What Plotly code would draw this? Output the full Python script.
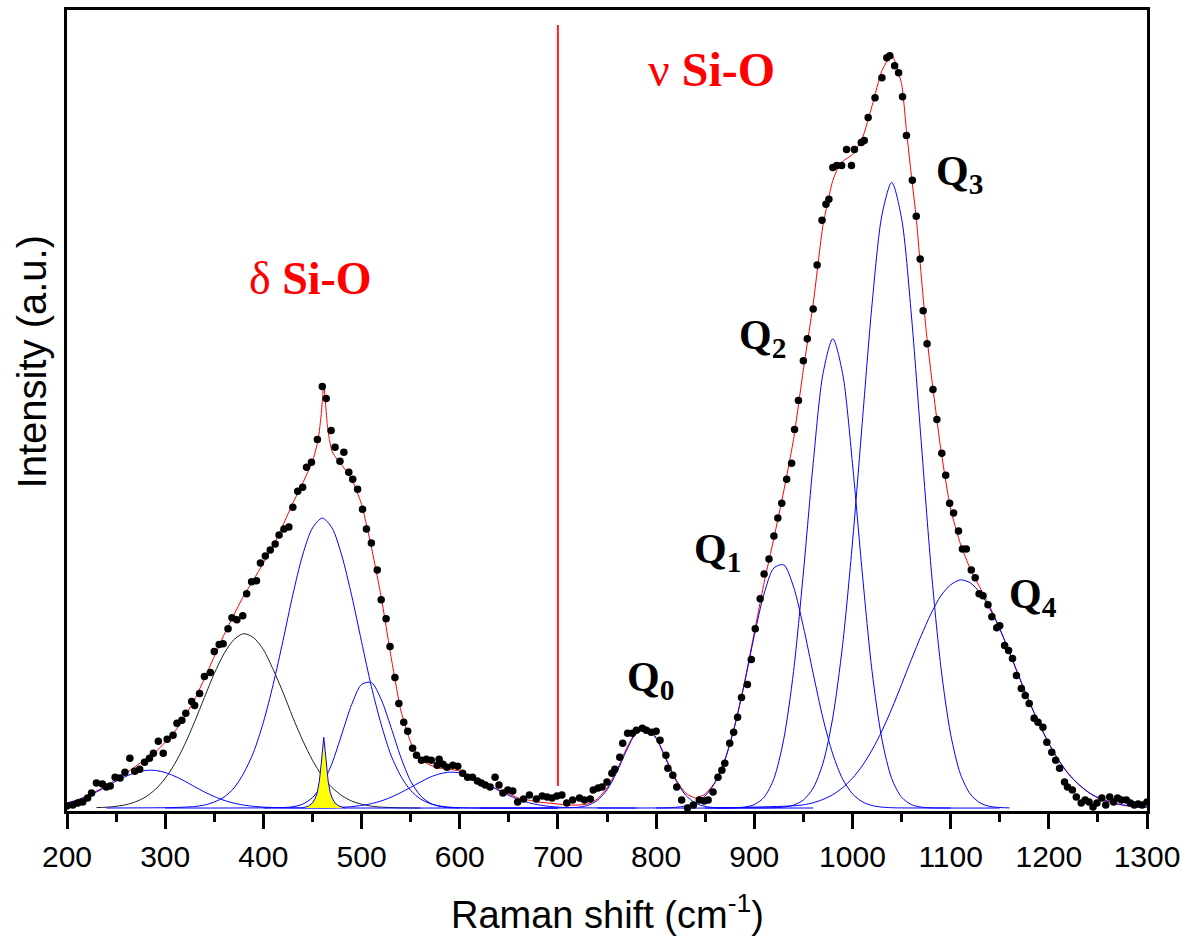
import plotly.graph_objects as go

# ---------------- measured spectrum (black dots) ----------------
data_x = [200, 206, 211, 216, 221, 225, 230, 236, 240, 244, 249, 254, 259, 264, 269, 274, 279, 284, 288, 293,
          298, 302, 308, 312, 317, 321, 327, 330, 335, 340, 346, 350, 355, 359, 364, 368, 373, 379, 383, 388,
          393, 397, 402, 407, 412, 416, 421, 426, 430, 435, 440, 444, 449, 455, 460, 464, 469, 473, 478, 482,
          487, 491, 496, 501, 505, 510, 516, 520, 525, 529, 534, 538, 543, 547, 552, 556, 561, 566, 571, 577,
          579, 583, 587, 593, 598, 603, 608, 613, 618, 622, 626, 631, 636, 640, 644, 649, 654, 659, 665, 671,
          678, 684, 689, 694, 699, 704, 709, 715, 722, 727, 733, 736, 741, 745, 750, 755, 758, 763, 766, 771,
          776, 780, 786, 790, 795, 800, 804, 810, 812, 817, 821, 826, 832, 838, 844, 849, 853, 858, 863, 867,
          870, 875, 879, 883, 887, 893, 897, 901, 906, 910, 915, 920, 924, 928, 933, 938, 941, 945, 950, 954,
          960, 964, 969, 973, 976, 980, 984, 989, 994, 999, 1002, 1009, 1012, 1016, 1023, 1030, 1035, 1038, 1043, 1047,
          1051, 1055, 1061, 1065, 1069, 1072, 1076, 1082, 1086, 1091, 1095, 1099, 1103, 1108, 1112, 1116, 1121, 1125, 1129, 1133,
          1138, 1142, 1147, 1150, 1155, 1159, 1163, 1167, 1172, 1176, 1180, 1185, 1189, 1194, 1198, 1203, 1207, 1211, 1216, 1219,
          1224, 1228, 1233, 1237, 1241, 1245, 1249, 1254, 1258, 1262, 1266, 1270, 1274, 1279, 1283, 1287, 1291, 1295, 1300]
data_y = [2, 3, 5, 6, 10, 15, 25, 24, 21, 22, 31, 30, 36, 50, 37, 39, 46, 50, 55, 67,
          55, 69, 73, 85, 88, 95, 107, 103, 115, 132, 136, 157, 164, 165, 180, 191, 189, 193, 215, 227,
          228, 246, 253, 259, 265, 274, 280, 282, 302, 318, 322, 342, 347, 370, 423, 411, 379, 362, 348, 357,
          337, 330, 320, 300, 280, 266, 239, 209, 190, 162, 131, 105, 86, 77, 60, 53, 48, 49, 48, 43,
          49, 44, 41, 43, 42, 35, 31, 31, 27, 25, 23, 21, 31, 23, 15, 18, 17, 6, 9, 13,
          9, 12, 11, 10, 12, 13, 5, 8, 10, 8, 9, 18, 20, 21, 26, 35, 39, 51, 65, 75,
          75, 78, 80, 78, 76, 77, 68, 53, 40, 33, 21, 8, 0, 3, 8, 7, 8, 16, 31, 38,
          45, 65, 76, 91, 111, 124, 149, 180, 210, 235, 250, 273, 291, 306, 330, 346, 380, 409, 449, 471,
          501, 545, 590, 606, 611, 643, 645, 645, 661, 645, 661, 668, 670, 693, 713, 733, 753, 755, 745, 738,
          714, 675, 630, 594, 551, 499, 466, 420, 390, 356, 334, 306, 296, 278, 260, 260, 239, 231, 215, 213,
          204, 192, 181, 183, 163, 158, 150, 133, 120, 113, 105, 90, 86, 81, 66, 56, 48, 40, 26, 21,
          18, 11, 5, 8, 6, 1, 5, 10, 3, 11, 6, 10, 8, 8, 5, 3, 4, 3, 6]

# ---------------- cumulative fit (red line) ----------------
fit_x = [200, 210, 220, 230, 240, 250, 260, 270, 280, 290, 300, 310, 320, 330, 340, 350, 360, 370, 380, 390,
         400, 410, 420, 430, 440, 450, 455, 457, 459, 460.5, 461.5, 463, 465, 467, 470, 475, 480, 490, 500, 510,
         520, 530, 540, 550, 560, 570, 580, 590, 600, 610, 620, 630, 640, 650, 660, 670, 680, 690, 700, 710,
         720, 730, 740, 750, 760, 770, 780, 790, 800, 810, 820, 830, 840, 850, 860, 870, 880, 890, 900, 910,
         920, 930, 940, 950, 960, 970, 980, 985, 990, 1000, 1010, 1020, 1030, 1040, 1050, 1055, 1060, 1065, 1070, 1075,
         1080, 1090, 1100, 1110, 1120, 1130, 1140, 1150, 1160, 1170, 1180, 1190, 1200, 1210, 1220, 1230, 1240, 1250, 1260, 1270,
         1280, 1290, 1300]
fit_y = [5, 8, 12, 17, 22, 29, 35, 42, 49, 56, 66, 77, 92, 109, 130, 152, 174, 194, 213, 229,
         246, 263, 284, 306, 326, 348, 366, 378, 396, 414, 425, 410, 386, 371, 358, 350, 344, 330, 305, 262,
         212, 152, 98, 66, 49, 43, 40, 39, 37, 32, 27, 23, 18, 14, 10, 8, 6, 5, 4, 3,
         3, 4, 9, 20, 38, 60, 77, 81, 71, 50, 29, 15, 10, 14, 26, 48, 82, 126, 176, 226,
         271, 318, 370, 440, 506, 585, 630, 642, 649, 656, 672, 705, 740, 756, 727, 680, 635, 592, 535, 480,
         437, 360, 300, 265, 240, 221, 202, 180, 156, 131, 107, 85, 65, 48, 34, 24, 16, 10, 7, 4,
         2, 1, 1]

# ---------------- fitted components (with their flat zero tails) ----------------
c285_x = list(range(200, 430, 10)) + [600]
c285_y = [4.9, 7.7, 11.5, 16.1, 21.4, 26.9, 31.8, 35.6, 37.7, 37.7, 35.6, 31.8, 26.9, 21.4, 16.1, 11.5,
          7.7, 4.9, 2.9, 1.7, 0.9, 0.5, 0.2, 0]

c380_x = list(range(230, 570, 10))
c380_y = [0.4, 0.8, 1.7, 3.3, 6.3, 11.1, 18.7, 29.7, 44.8, 64, 86.6, 111, 135, 155, 169, 175, 171, 159,
          139, 116, 91, 68, 48, 32, 20.5, 12.4, 7, 3.8, 1.9, 0.9, 0.5, 0.2, 0.1, 0]

c460_x = [240] + list(range(300, 630, 10)) + [700]
c460_y = [0, 0.3, 0.5, 0.9, 1.5, 3, 6, 11, 20, 35, 56, 86, 124, 168, 214, 254, 281, 291, 281, 253, 213,
          167, 122, 84, 53, 32, 17.6, 9.1, 4.4, 2, 0.8, 0.3, 0.1, 0, 0]

c505_x = [300] + list(range(420, 610, 10)) + [700]
c505_y = [0, 0.5, 1.3, 3.9, 10.4, 23.6, 45, 74.5, 104, 124, 126, 109, 81, 51, 27, 12.4, 4.8, 1.6, 0.4, 0.1, 0]

c590_x = [400] + list(range(470, 730, 10)) + [780]
c590_y = [0, 0.3, 0.7, 1.4, 2.6, 4.4, 7.1, 10.8, 15.5, 20.7, 26.1, 31, 34.4, 36, 35.3, 32.5, 28.2, 22.9,
          17.5, 12.6, 8.5, 5.4, 3.2, 1.8, 0.9, 0.4, 0.2, 0]

c462_x = [440, 446, 450, 453, 455, 457, 459, 460, 461.5, 463, 464, 466, 468, 470, 473, 477, 483]
c462_y = [0, 2, 5, 10, 16, 27, 45, 57, 71, 57, 45, 27, 16, 10, 5, 2, 0]

q0_x = [620] + list(range(700, 880, 10)) + [960]
q0_y = [0, 0, 0.2, 0.7, 2.5, 7.5, 18.2, 36, 58, 75.8, 80.7, 69.8, 49, 28, 13, 5, 1.5, 0.4, 0.1, 0]

q1_x = [740] + list(range(810, 1060, 10)) + [1100]
q1_y = [0, 0.2, 0.7, 2, 5.2, 12.2, 25.5, 48, 82, 125, 173, 215, 241, 244, 222, 182, 135, 90, 54, 29,
        14.3, 6.3, 2.5, 0.9, 0.3, 0.1, 0]

q2_x = [800] + list(range(880, 1090, 10)) + [1150]
q2_y = [0, 0.2, 0.9, 3.4, 10.9, 29.5, 69, 137, 236, 346, 436, 471, 436, 346, 236, 137, 69, 29.5, 10.9,
        3.4, 0.9, 0.2, 0]

q3_x = [850] + list(range(920, 1170, 10))
q3_y = [0, 0.3, 0.9, 2.9, 8, 20, 45, 91, 164, 266, 387, 506, 595, 628, 592, 495, 368, 242, 142, 74, 34,
        14, 5.1, 1.6, 0.5, 0.1]

q4_x = [860] + list(range(940, 1310, 10))
q4_y = [0, 2.2, 3.2, 5.3, 8.6, 13.4, 20.4, 29.9, 42.4, 58.3, 77.4, 99.5, 124, 149, 173, 195, 213, 224,
        229, 226, 216, 200, 180, 156, 131, 107, 84.7, 64.8, 48, 34.5, 24, 16.1, 10.5, 6.6, 4.1, 2.4,
        1.4, 0.8]

# labels
label_text = ["<b>Q<sub>0</sub></b>", "<b>Q<sub>1</sub></b>", "<b>Q<sub>2</sub></b>",
              "<b>Q<sub>3</sub></b>", "<b>Q<sub>4</sub></b>"]
label_x = [794, 863, 908, 1109, 1184]
label_y = [128, 257, 472, 636, 212]

BLUE = "#0000ff"
fig = go.Figure()

fig.add_trace(go.Scatter(x=fit_x, y=fit_y, mode="lines",
                         line=dict(color="#ff0000", width=1, shape="spline", smoothing=0.5)))

fig.add_trace(go.Scatter(x=c380_x, y=c380_y, mode="lines",
                         line=dict(color="#222222", width=1, shape="spline", smoothing=0.8)))

for cx, cy in [(c285_x, c285_y), (c460_x, c460_y), (c505_x, c505_y), (c590_x, c590_y),
               (q0_x, q0_y), (q1_x, q1_y), (q2_x, q2_y), (q3_x, q3_y), (q4_x, q4_y)]:
    fig.add_trace(go.Scatter(x=cx, y=cy, mode="lines",
                             line=dict(color=BLUE, width=1, shape="spline", smoothing=0.8)))

fig.add_trace(go.Scatter(x=c462_x, y=c462_y, mode="lines", fill="tozeroy", fillcolor="#ffff00",
                         line=dict(color=BLUE, width=1)))

fig.add_trace(go.Scatter(x=data_x, y=data_y, mode="markers",
                         marker=dict(color="black", size=7.5, symbol="circle")))

# red separator line at 700 cm-1
fig.add_shape(type="line", xref="x", yref="y", x0=700, x1=700, y0=22, y1=786,
              line=dict(color="#ff2020", width=2))

annos = []
annos.append(dict(x=448, y=531, xref="x", yref="y", text="δ <b>Si-O</b>", showarrow=False,
                  font=dict(family="Liberation Serif", size=46, color="#ff0000")))
annos.append(dict(x=856, y=741, xref="x", yref="y", text="ν <b>Si-O</b>", showarrow=False,
                  font=dict(family="Liberation Serif", size=48, color="#ff0000")))
for t, lx, ly in zip(label_text, label_x, label_y):
    annos.append(dict(x=lx, y=ly, xref="x", yref="y", text=t, showarrow=False,
                      font=dict(family="Liberation Serif", size=42, color="black")))
annos.append(dict(x=0.5, y=-0.1256, xref="paper", yref="paper", text="Raman shift (cm<sup>-1</sup>)",
                  showarrow=False, yanchor="middle",
                  font=dict(family="Liberation Sans", size=38, color="black")))
annos.append(dict(x=-0.0324, y=0.56, xref="paper", yref="paper", text="Intensity (a.u.)",
                  showarrow=False, textangle=-90, xanchor="center", yanchor="middle",
                  font=dict(family="Liberation Sans", size=40, color="black")))

fig.update_layout(
    width=1192, height=939,
    margin=dict(l=67, r=45, t=7, b=128),
    plot_bgcolor="white", paper_bgcolor="white",
    showlegend=False,
    annotations=annos,
    xaxis=dict(range=[200, 1300], showline=True, linecolor="black", linewidth=3, mirror=True,
               ticks="outside", ticklen=15, tickwidth=3, tickcolor="black",
               tick0=0, dtick=100, showgrid=False, zeroline=False, ticklabelstandoff=2,
               tickfont=dict(family="Liberation Sans", size=30, color="black"),
               minor=dict(dtick=50, ticks="outside", ticklen=8, tickwidth=3, tickcolor="black",
                          showgrid=False)),
    yaxis=dict(range=[-3, 801], showline=True, linecolor="black", linewidth=3, mirror=True,
               ticks="", showticklabels=False, showgrid=False, zeroline=False),
)

fig.write_html("out.html")
